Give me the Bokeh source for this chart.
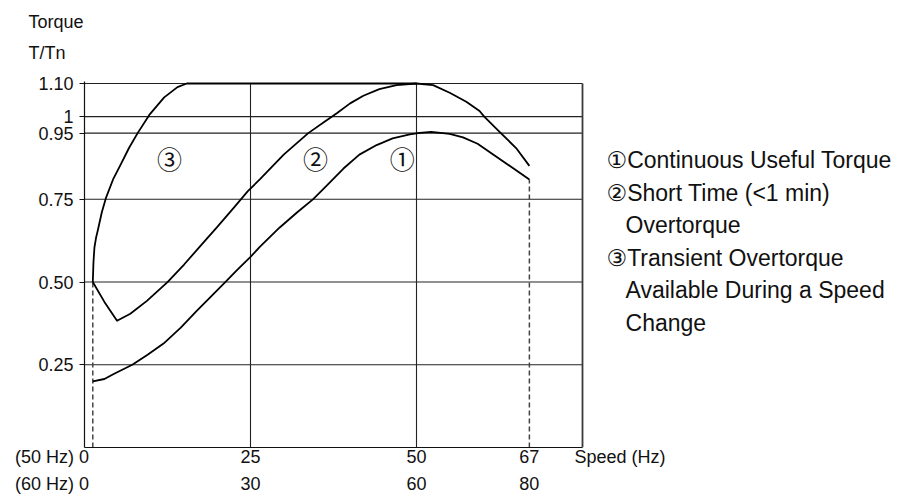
from bokeh.plotting import figure
from bokeh.models import Range1d, FixedTicker, LinearAxis, Label, Title
from bokeh.embed import file_html
from bokeh.resources import INLINE

# ---------------- data ----------------
speed_50 = [0, 25, 50, 67]
speed_60 = [0, 30, 60, 80]
torque_ticks = [0.25, 0.50, 0.75, 0.95, 1.0, 1.10]
torque_tick_labels = ["0.25", "0.50", "0.75", "0.95", "1", "1.10"]

# (1) continuous useful torque
c1_hz = [1.25, 3, 4.4, 7.2, 9.5, 11.9, 14.5, 16.9, 19, 21.2, 23, 25, 26.4, 29.4, 32,
         34.4, 36.4, 39, 41.4, 44, 46.4, 49, 50.5, 52.2, 55, 57, 59.2, 67]
c1_t = [0.20, 0.207, 0.222, 0.25, 0.28, 0.314, 0.362, 0.413, 0.455, 0.50, 0.537, 0.576, 0.606,
        0.665, 0.71, 0.75, 0.79, 0.843, 0.885, 0.914, 0.934, 0.946, 0.951, 0.954, 0.948, 0.937,
        0.918, 0.81]

# (2) short time (<1 min) overtorque
c2_hz = [1.25, 3, 4.9, 6.9, 9.4, 12.5, 15, 17.5, 20, 22.5, 24.6, 26.4, 30, 33.7, 36.2, 38,
         40, 42, 44.4, 47, 50, 52.5, 55, 57.5, 59.5, 60.2, 62.7, 65, 67]
c2_t = [0.50, 0.44, 0.383, 0.404, 0.443, 0.50, 0.553, 0.61, 0.667, 0.725, 0.775, 0.81, 0.885,
        0.95, 0.985, 1.01, 1.04, 1.063, 1.083, 1.095, 1.10, 1.095, 1.072, 1.045, 1.017, 1.0,
        0.95, 0.905, 0.851]

# (3) transient overtorque
c3_hz = [1.25, 1.35, 1.5, 1.75, 2.0, 2.6, 3.26, 4.3, 5.5, 6.7, 8.0, 9.76, 12.0, 14.0, 15.4, 50]
c3_t = [0.50, 0.56, 0.605, 0.635, 0.656, 0.71, 0.756, 0.81, 0.857, 0.905, 0.95, 1.005, 1.058,
        1.089, 1.10, 1.10]

curve_marks = ["\u2460", "\u2461", "\u2462"]
legend_lines = ["\u2460Continuous Useful Torque", "\u2461Short Time (<1 min)", "Overtorque",
                "\u2462Transient Overtorque", "Available During a Speed", "Change"]
legend_indent = [False, False, True, False, True, True]
row1_prefix = "(50 Hz)"
row2_prefix = "(60 Hz)"
x_title = "Speed (Hz)"
y_title = ["Torque", "T/Tn"]

FONT = "Liberation Sans"
TXT = "#111111"
NB = "\u00a0"

# ---------------- layout ----------------
X_PLOT_END = 75            # right border of the drawn chart (Hz)
Y_PLOT_END = 1.10
FRAME_L, FRAME_T = 84, 81
W, H = 912, 496
PLOT_W = 498               # px between 0 Hz and X_PLOT_END
X_VIEW_END = X_PLOT_END * (W - FRAME_L) / PLOT_W
Y_VIEW_END = Y_PLOT_END * 366 / 364

p = figure(width=W, height=H, x_range=Range1d(0, X_VIEW_END), y_range=Range1d(0, Y_VIEW_END),
           output_backend="svg", toolbar_location=None,
           min_border_left=FRAME_L, min_border_right=0, min_border_top=FRAME_T,
           min_border_bottom=49)
p.background_fill_color = "white"
p.border_fill_color = "white"
p.outline_line_color = None
p.xgrid.visible = False
p.ygrid.visible = False

# bottom axis (50 Hz row); prefix and axis title carried by padded tick labels
ax = p.xaxis[0]
ax.bounds = (0, X_PLOT_END)
ax.ticker = FixedTicker(ticks=speed_50 + [X_PLOT_END])
over1 = {v: str(v) for v in speed_50}
over1[speed_50[0]] = row1_prefix + NB + str(speed_50[0]) + NB * 13
over1[X_PLOT_END] = NB * 15 + x_title
ax.major_label_overrides = over1
ax.axis_line_color = "#111111"
ax.axis_line_width = 1.2
ax.major_tick_out = 0
ax.major_tick_in = 0
ax.minor_tick_line_color = None
ax.major_label_standoff = -1
ax.major_label_text_font = FONT
ax.major_label_text_font_size = "18px"
ax.major_label_text_color = TXT

# second bottom axis (60 Hz row)
over2 = {a: str(b) for a, b in zip(speed_50, speed_60)}
over2[speed_50[0]] = row2_prefix + NB + str(speed_60[0]) + NB * 13
ax2 = LinearAxis(ticker=FixedTicker(ticks=speed_50), major_label_overrides=over2,
                 axis_line_color=None, major_tick_line_color=None, minor_tick_line_color=None,
                 major_label_standoff=-2, major_label_text_font=FONT,
                 major_label_text_font_size="18px", major_label_text_color=TXT)
p.add_layout(ax2, "below")

# left axis
ay = p.yaxis[0]
ay.ticker = FixedTicker(ticks=torque_ticks)
ay.major_label_overrides = dict(zip(torque_ticks, torque_tick_labels))
ay.axis_line_color = "#111111"
ay.axis_line_width = 1.2
ay.major_tick_out = 5
ay.major_tick_in = 0
ay.major_tick_line_color = "#111111"
ay.minor_tick_line_color = None
ay.major_label_standoff = 6
ay.major_label_text_font = FONT
ay.major_label_text_font_size = "18px"
ay.major_label_text_color = TXT

# y title lines (above panel, nearest first)
p.add_layout(Title(text=y_title[1], align="left", offset=-56, standoff=33, vertical_align="top",
                   text_font=FONT, text_font_size="18px", text_font_style="normal",
                   text_color=TXT), "above")
p.add_layout(Title(text=y_title[0], align="left", offset=-56, standoff=-14, vertical_align="top",
                   text_font=FONT, text_font_size="18px", text_font_style="normal",
                   text_color=TXT), "above")

# reference lines limited to the chart area (drawn from the tick arrays)
n_h = len(torque_ticks)
p.segment(x0=[0] * n_h, x1=[X_PLOT_END] * n_h, y0=torque_ticks, y1=torque_ticks,
          line_color="#222222", line_width=1.1)
v_lines = speed_50[1:3]
p.segment(x0=v_lines, x1=v_lines, y0=[0] * len(v_lines), y1=[Y_PLOT_END] * len(v_lines),
          line_color="#222222", line_width=1.1)
# right border of the chart
p.segment(x0=[X_PLOT_END], x1=[X_PLOT_END], y0=[0], y1=[Y_PLOT_END],
          line_color="#3a3a3a", line_width=1.8)

# dashed guides
dash = dict(line_color="#444444", line_width=1.5, line_dash="5 3")
p.line([c2_hz[0], c2_hz[0]], [0, c2_t[0]], **dash)
p.line([c1_hz[-1], c1_hz[-1]], [0, c1_t[-1]], **dash)

# curves
for xs, ys in ((c1_hz, c1_t), (c2_hz, c2_t), (c3_hz, c3_t)):
    p.line(xs, ys, line_color="black", line_width=1.8, line_join="round")

# circled curve markers
for txt, xv in zip(curve_marks, (47.85, 34.8, 12.8)):
    p.add_layout(Label(x=xv, y=0.876, text=txt, text_font="Noto Sans CJK JP",
                       text_font_size="25px", text_align="center", text_baseline="middle",
                       text_color=TXT))

# legend text block
leg_font = "'Liberation Sans', 'DejaVu Sans'"
for i, (line, ind) in enumerate(zip(legend_lines, legend_indent)):
    p.add_layout(Label(x=78.62, y=0.8685 - i * 0.0982, x_offset=19 if ind else 0, text=line,
                       text_font=leg_font, text_font_size="23px", text_baseline="middle",
                       text_color=TXT))

open("out.html", "w").write(file_html(p, INLINE))
